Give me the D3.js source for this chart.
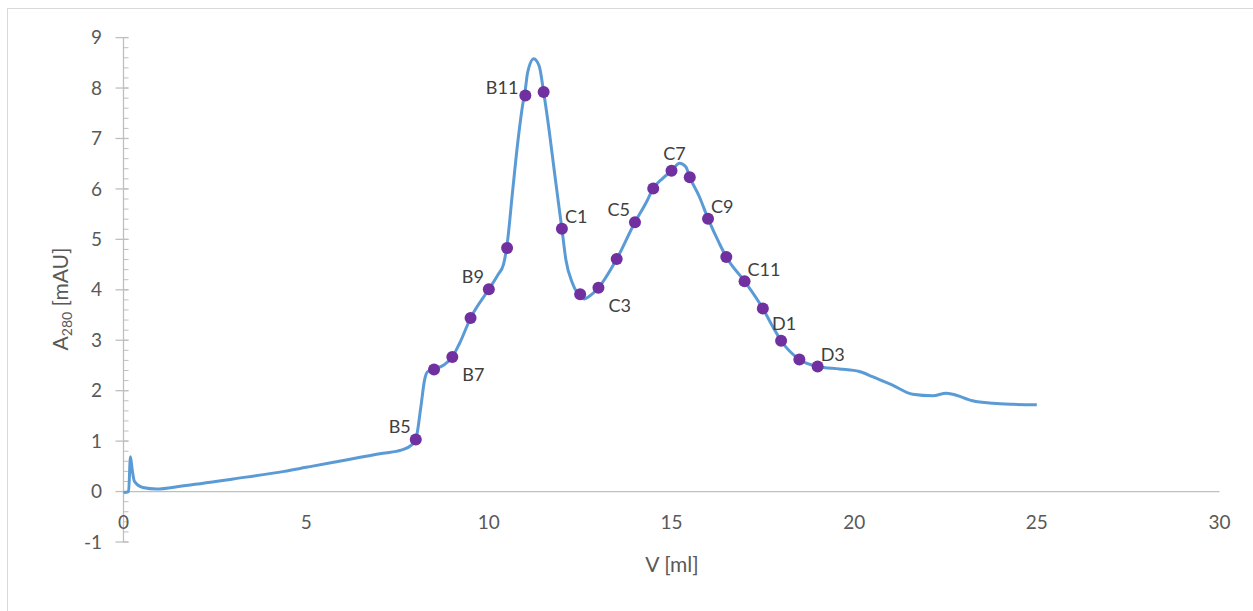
<!DOCTYPE html>
<html>
<head>
<meta charset="utf-8">
<script src="https://cdn.jsdelivr.net/npm/d3@7"></script>
<style>
  body { margin: 0; background: #fff; }
  text { font-family: Lato, "Open Sans", sans-serif; }
</style>
</head>
<body>
<div id="chart"></div>
<script>
// chromatogram trace
var traceV = [0, 0.14, 0.19, 0.24, 0.30, 0.53, 0.9, 1.6, 3.0, 4.4, 5.0, 5.75, 7.1, 7.6, 7.88, 8.0,
    8.14, 8.24, 8.33, 8.5, 9.0, 9.2, 9.5, 10.0, 10.25, 10.4, 10.5, 10.65, 10.79, 10.92,
    11.0, 11.06, 11.23, 11.38, 11.5, 11.66, 11.8, 11.93, 12.0, 12.11, 12.29, 12.5, 12.62, 12.75,
    13.0, 13.5, 14.0, 14.3, 14.5, 14.76, 15.0, 15.22, 15.39, 15.5, 15.76, 16.0, 16.31, 16.5,
    17.0, 17.5, 17.77, 18.0, 18.5, 19.0, 19.6, 20.14, 20.5, 21.05, 21.6, 22.15, 22.52, 22.7,
    23.24, 23.8, 24.34, 25.0];
var traceA = [-0.02, 0.0, 0.69, 0.42, 0.2, 0.08, 0.05, 0.11, 0.25, 0.4, 0.48, 0.58, 0.76, 0.82, 0.92, 1.03,
    1.68, 2.21, 2.38, 2.42, 2.67, 2.94, 3.44, 4.01, 4.3, 4.5, 4.9, 5.95, 6.91, 7.64,
    7.98, 8.30, 8.58, 8.43, 7.92, 7.11, 6.31, 5.59, 5.21, 4.59, 4.13, 3.87, 3.82, 3.87,
    4.04, 4.61, 5.34, 5.72, 6.01, 6.21, 6.36, 6.51, 6.44, 6.23, 5.85, 5.41, 4.92, 4.65,
    4.17, 3.63, 3.27, 2.99, 2.62, 2.48, 2.43, 2.38, 2.28, 2.11, 1.93, 1.90, 1.95, 1.93,
    1.80, 1.75, 1.73, 1.72];

// collected fractions
var fracV = [8.0, 8.5, 9.0, 9.5, 10.0, 10.5, 11.0, 11.5, 12.0, 12.5, 13.0, 13.5,
    14.0, 14.5, 15.0, 15.5, 16.0, 16.5, 17.0, 17.5, 18.0, 18.5, 19.0];
var fracA = [1.03, 2.42, 2.67, 3.44, 4.01, 4.83, 7.85, 7.92, 5.21, 3.91, 4.04, 4.61,
    5.34, 6.01, 6.36, 6.23, 5.41, 4.65, 4.17, 3.63, 2.99, 2.62, 2.48];
var fracNames = ["B5", "", "B7", "", "B9", "", "B11", "", "C1", "", "C3", "",
    "C5", "", "C7", "", "C9", "", "C11", "", "D1", "", "D3"];
// where each label sits relative to its point
var fracLabelSide = ["upleft", "", "downright", "", "upleft", "", "left", "", "upright", "", "downright", "",
    "upleft", "", "up", "", "upright", "", "upright", "", "up", "", "upright"];

var xTicks = [0, 5, 10, 15, 20, 25, 30];
var yTicks = [-1, 0, 1, 2, 3, 4, 5, 6, 7, 8, 9];

window.onload = init;

function init() {
    drawChart();
}

function drawChart() {
    var w = 1253;
    var h = 611;

    var svg = d3.select("#chart")
        .append("svg")
        .attr("width", w)
        .attr("height", h);

    // chart border
    svg.append("rect")
        .attr("x", 7.5)
        .attr("y", 8.5)
        .attr("width", 1250)
        .attr("height", 610)
        .attr("fill", "none")
        .attr("stroke", "#d9d9d9");

    var x = d3.scaleLinear().domain([0, 30]).range([123.5, 1219.5]);
    var y = d3.scaleLinear().domain([-1, 9]).range([542, 37.6]);

    // x axis line at zero
    svg.append("line")
        .attr("x1", x(0))
        .attr("x2", x(30))
        .attr("y1", y(0))
        .attr("y2", y(0))
        .attr("stroke", "#bfbfbf")
        .attr("stroke-width", 1.3);

    // y axis line
    svg.append("line")
        .attr("x1", x(0))
        .attr("x2", x(0))
        .attr("y1", y(-1))
        .attr("y2", y(9))
        .attr("stroke", "#bfbfbf")
        .attr("stroke-width", 1.3);

    // minor ticks (0.2 steps)
    var minor = d3.range(-1, 9.001, 0.2);
    svg.selectAll("line.minor")
        .data(minor)
        .enter()
        .append("line")
        .attr("class", "minor")
        .attr("x1", x(0))
        .attr("x2", x(0) + 5)
        .attr("y1", function(d) { return y(d); })
        .attr("y2", function(d) { return y(d); })
        .attr("stroke", "#bfbfbf")
        .attr("stroke-width", 1);

    // major ticks
    svg.selectAll("line.major")
        .data(yTicks)
        .enter()
        .append("line")
        .attr("class", "major")
        .attr("x1", x(0) - 8)
        .attr("x2", x(0) + 5)
        .attr("y1", function(d) { return y(d); })
        .attr("y2", function(d) { return y(d); })
        .attr("stroke", "#bfbfbf")
        .attr("stroke-width", 1.3);

    svg.selectAll("text.ylab")
        .data(yTicks)
        .enter()
        .append("text")
        .attr("class", "ylab")
        .text(function(d) { return d; })
        .attr("x", 102)
        .attr("y", function(d) { return y(d); })
        .attr("dy", "0.35em")
        .attr("text-anchor", "end")
        .attr("fill", "#595959")
        .attr("font-size", "19px");

    svg.selectAll("text.xlab")
        .data(xTicks)
        .enter()
        .append("text")
        .attr("class", "xlab")
        .text(function(d) { return d; })
        .attr("x", function(d) { return x(d); })
        .attr("y", 522)
        .attr("dy", "0.35em")
        .attr("text-anchor", "middle")
        .attr("fill", "#595959")
        .attr("font-size", "19px");

    // axis titles
    var yt = svg.append("text")
        .attr("transform", "translate(68,299) rotate(-90)")
        .attr("text-anchor", "middle")
        .attr("fill", "#595959")
        .attr("font-size", "21px");
    yt.append("tspan").text("A");
    yt.append("tspan").text("280").attr("font-size", "14px").attr("dy", "4");
    yt.append("tspan").text(" [mAU]").attr("dy", "-4");

    svg.append("text")
        .text("V [ml]")
        .attr("x", 672)
        .attr("y", 572)
        .attr("text-anchor", "middle")
        .attr("fill", "#595959")
        .attr("font-size", "21px");

    // trace
    var trace = traceV.map(function(v, i) { return [v, traceA[i]]; });
    var line = d3.line()
        .x(function(d) { return x(d[0]); })
        .y(function(d) { return y(d[1]); })
        .curve(d3.curveMonotoneX);

    svg.append("path")
        .datum(trace)
        .attr("d", line)
        .attr("fill", "none")
        .attr("stroke", "#5b9bd5")
        .attr("stroke-width", 3)
        .attr("stroke-linejoin", "round");

    // fraction markers
    var fracs = fracV.map(function(v, i) {
        return { v: v, a: fracA[i], name: fracNames[i], side: fracLabelSide[i] };
    });

    svg.selectAll("circle.frac")
        .data(fracs)
        .enter()
        .append("circle")
        .attr("class", "frac")
        .attr("cx", function(d) { return x(d.v); })
        .attr("cy", function(d) { return y(d.a); })
        .attr("r", 6)
        .attr("fill", "#7030a0");

    var offs = {
        upleft: [-5, -13, "end"],
        left: [-7, -8, "end"],
        downright: [10, 18, "start"],
        upright: [3, -12, "start"],
        up: [3, -17, "middle"]
    };

    svg.selectAll("text.frac")
        .data(fracs.filter(function(d) { return d.name !== ""; }))
        .enter()
        .append("text")
        .attr("class", "frac")
        .text(function(d) { return d.name; })
        .attr("x", function(d) { return x(d.v) + offs[d.side][0]; })
        .attr("y", function(d) { return y(d.a) + offs[d.side][1]; })
        .attr("dy", "0.35em")
        .attr("text-anchor", function(d) { return offs[d.side][2]; })
        .attr("fill", "#404040")
        .attr("font-size", "18px");
}
</script>
</body>
</html>
